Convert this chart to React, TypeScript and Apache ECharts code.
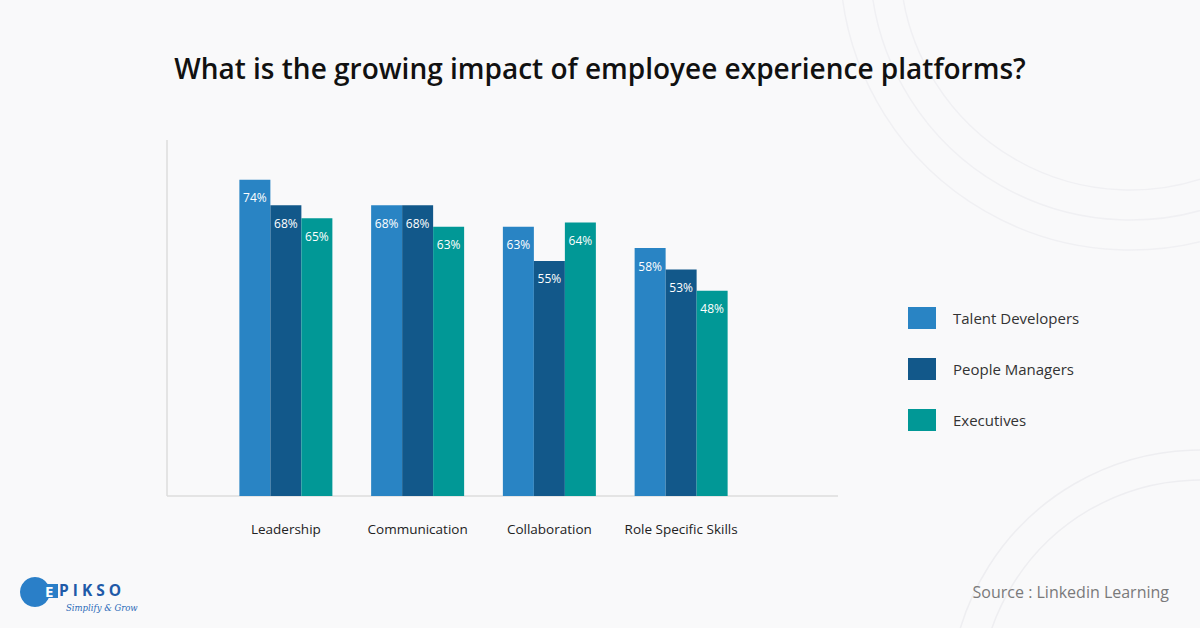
import React, { useEffect, useRef } from "react";
import * as echarts from "echarts";

const categories = ["Leadership", "Communication", "Collaboration", "Role Specific Skills"];
const seriesNames = ["Talent Developers", "People Managers", "Executives"];
const talentDevelopers = [74, 68, 63, 58];
const peopleManagers = [68, 68, 55, 53];
const executives = [65, 63, 64, 48];
const seriesColors = ["#2984c4", "#12588a", "#019896"];
const title = "What is the growing impact of employee experience platforms?";
const source = "Source : Linkedin Learning";

export default function App() {
  const ref = useRef<HTMLDivElement>(null);
  useEffect(() => {
    if (!ref.current) return;
    const chart = echarts.init(ref.current, undefined, { renderer: "svg" });
    const values = [talentDevelopers, peopleManagers, executives];
    const font = "'Open Sans', 'Noto Sans', sans-serif";
    chart.setOption({
      animation: false,
      backgroundColor: "#f9f9fa",
      textStyle: { fontFamily: font },
      title: {
        text: title,
        left: "center",
        top: 49,
        textStyle: { fontSize: 28, fontWeight: 600, color: "#111", fontFamily: font },
      },
      legend: {
        orient: "vertical",
        left: 903,
        top: 302,
        itemWidth: 28,
        itemHeight: 22,
        itemGap: 29,
        icon: "rect",
        textStyle: { fontSize: 15, color: "#333", padding: [0, 0, 0, 12], fontFamily: font },
        data: seriesNames,
      },
      grid: { left: 220, right: 453, top: 154, bottom: 132 },
      xAxis: {
        type: "category",
        data: categories,
        axisLine: { show: false },
        axisTick: { show: false },
        axisLabel: { interval: 0, fontSize: 13.5, color: "#222", margin: 26, fontFamily: font },
      },
      yAxis: {
        type: "value",
        min: 0,
        max: 80,
        show: false,
        splitLine: { show: false },
      },
      graphic: [
        { type: "line", shape: { x1: 167, y1: 140, x2: 167, y2: 496 }, style: { stroke: "#dcdcdc", lineWidth: 1.5 }, silent: true },
        { type: "line", shape: { x1: 167, y1: 496, x2: 838, y2: 496 }, style: { stroke: "#dcdcdc", lineWidth: 1.5 }, silent: true },
        { type: "circle", shape: { cx: 1130, cy: -40, r: 230 }, style: { fill: "none", stroke: "#f0f0f3", lineWidth: 1.5 }, silent: true, z: -10 },
        { type: "circle", shape: { cx: 1130, cy: -40, r: 260 }, style: { fill: "none", stroke: "#f0f0f3", lineWidth: 1.5 }, silent: true, z: -10 },
        { type: "circle", shape: { cx: 1130, cy: -40, r: 290 }, style: { fill: "none", stroke: "#f0f0f3", lineWidth: 1.5 }, silent: true, z: -10 },
        { type: "circle", shape: { cx: 1200, cy: 700, r: 220 }, style: { fill: "none", stroke: "#eeeef1", lineWidth: 1.5 }, silent: true, z: -10 },
        { type: "circle", shape: { cx: 1200, cy: 700, r: 250 }, style: { fill: "none", stroke: "#eeeef1", lineWidth: 1.5 }, silent: true, z: -10 },
        { type: "circle", shape: { cx: 35, cy: 592, r: 15 }, style: { fill: "#2a7fc8" } },
        { type: "rect", shape: { x: 44, y: 584, width: 14, height: 14 }, style: { fill: "#2a7fc8" } },
        { type: "text", x: 45, y: 591, style: { text: "E", fill: "#ffffff", font: `bold 15px ${font}`, textVerticalAlign: "middle" } },
        { type: "text", x: 59, y: 590, style: { text: "P I K S O", fill: "#1f5aa8", font: `bold 15.5px ${font}`, textVerticalAlign: "middle" } },
        { type: "text", x: 66, y: 608, style: { text: "Simplify & Grow", fill: "#2a6ab8", font: `italic 8.5px 'DejaVu Serif', serif`, textVerticalAlign: "middle" } },
        { type: "text", right: 31, top: 584, style: { text: source, fill: "#7a7a7a", font: `16px ${font}` } },
      ],
      series: seriesNames.map((name, i) => ({
        name,
        type: "bar",
        data: values[i],
        barWidth: 31,
        barGap: "0%",
        itemStyle: { color: seriesColors[i] },
        label: {
          show: true,
          position: "insideTop",
          distance: 12,
          formatter: "{c}%",
          color: "#ffffff",
          fontSize: 12,
          fontFamily: font,
        },
      })),
    });
    return () => chart.dispose();
  }, []);
  return <div ref={ref} style={{ position: "fixed", left: 0, top: 0, width: 1200, height: 628 }} />;
}
